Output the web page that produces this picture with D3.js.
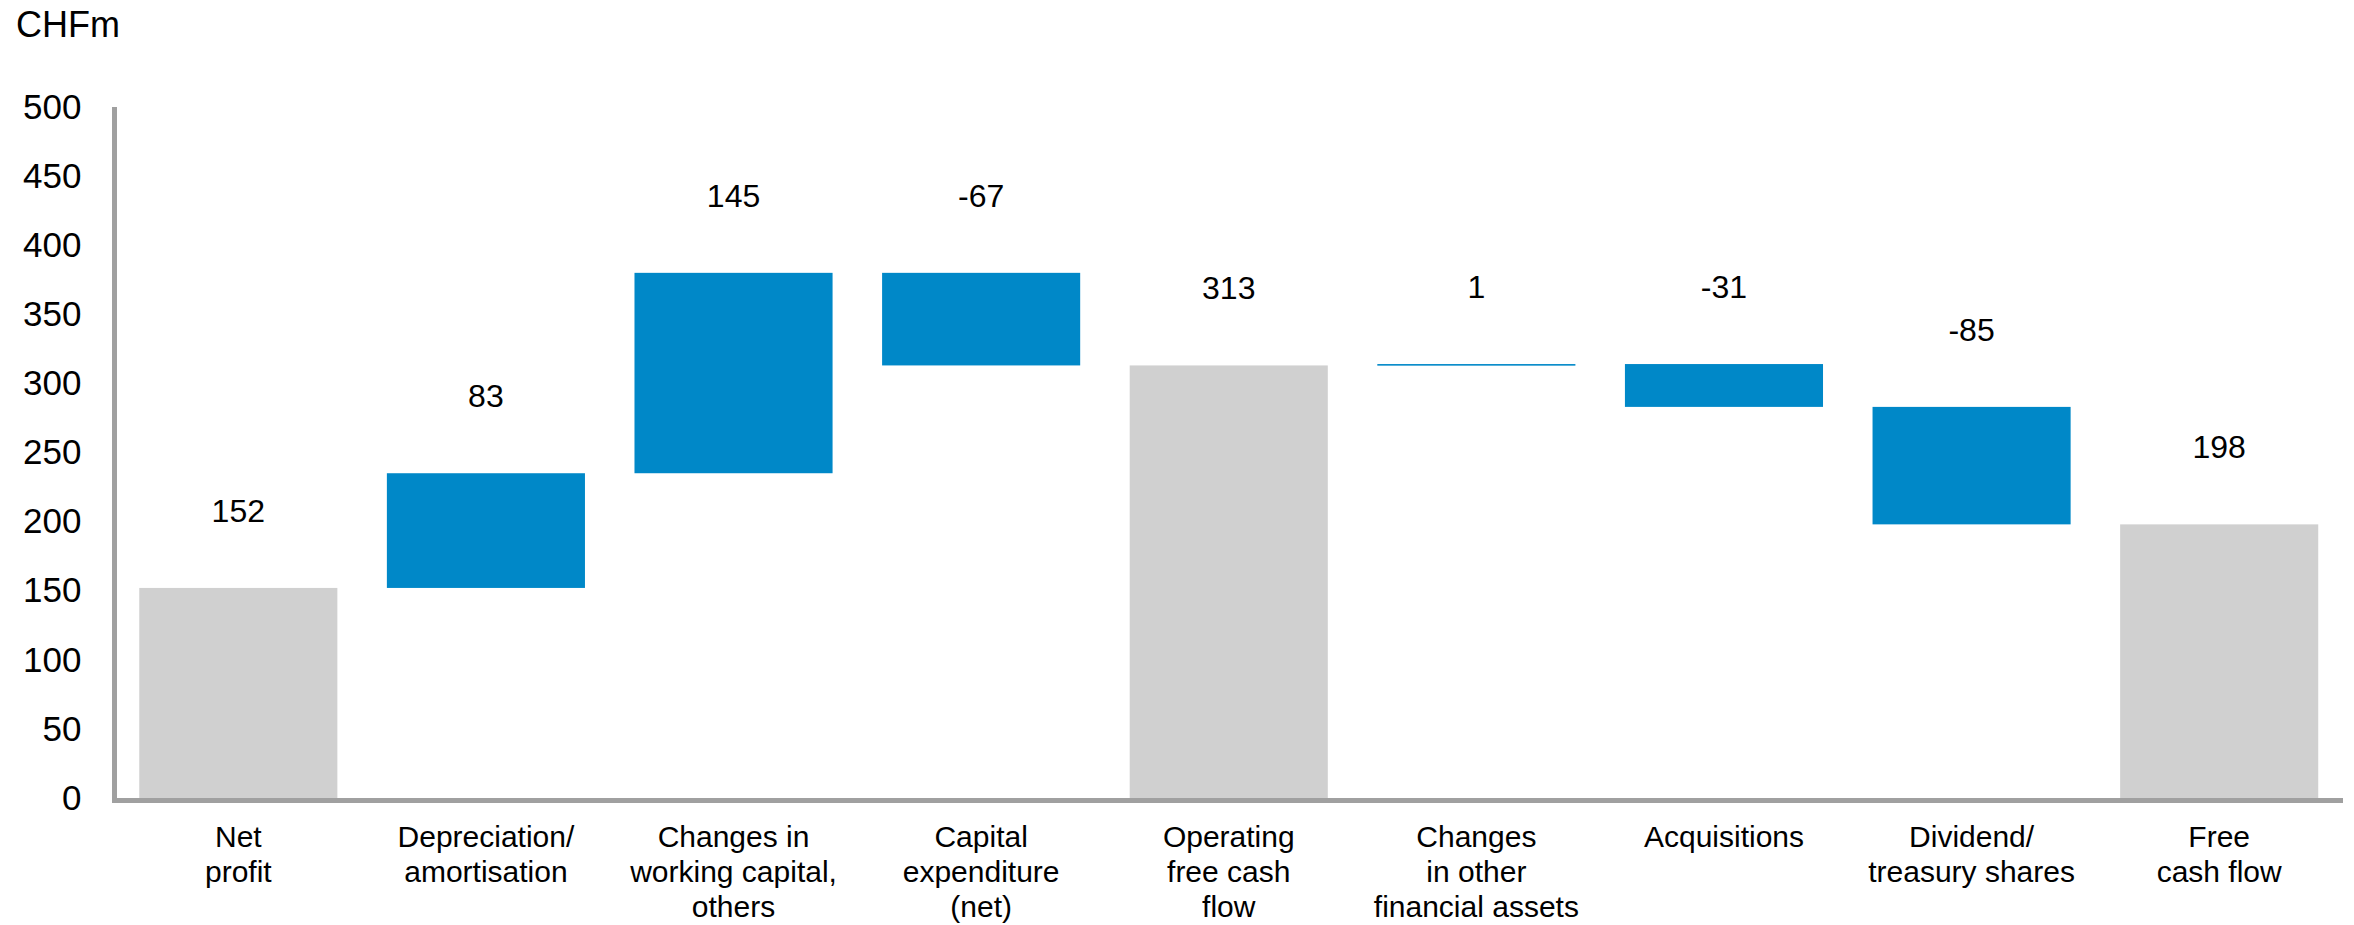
<!DOCTYPE html>
<html>
<head>
<meta charset="utf-8">
<script src="https://cdn.jsdelivr.net/npm/d3@7"></script>
<style>
  body { margin: 0; background: #fff; }
  text { font-family: Arial, 'Liberation Sans', sans-serif; fill: #000; }
</style>
</head>
<body>
<div id="chart"></div>
<script>
// waterfall data
const categories = [
  'Net\nprofit',
  'Depreciation/\namortisation',
  'Changes in\nworking capital,\nothers',
  'Capital\nexpenditure\n(net)',
  'Operating\nfree cash\nflow',
  'Changes\nin other\nfinancial assets',
  'Acquisitions',
  'Dividend/\ntreasury shares',
  'Free\ncash flow'
];
const values = [152, 83, 145, -67, 313, 1, -31, -85, 198];
const isTotal = [true, false, false, false, true, false, false, false, true];
const yTicks = [0, 50, 100, 150, 200, 250, 300, 350, 400, 450, 500];
const unitLabel = 'CHFm';

const width = 2354;
const height = 925;
const margin = { top: 107, right: 11, bottom: 127, left: 114.5 };

// running start/end for each step
let running = 0;
const steps = values.map(function (v, i) {
  let start, end;
  if (isTotal[i]) {
    start = 0;
    end = v;
    running = v;
  } else {
    start = running;
    end = running + v;
    running = end;
  }
  return { cat: categories[i], value: v, start: start, end: end, total: isTotal[i] };
});

const x = d3
  .scaleBand()
  .domain(categories)
  .range([margin.left, width - margin.right])
  .paddingInner(0.2)
  .paddingOuter(0.1);

const y = d3
  .scaleLinear()
  .domain([0, 500])
  .range([height - margin.bottom, margin.top]);

const svg = d3
  .select('#chart')
  .append('svg')
  .attr('width', width)
  .attr('height', height);

svg
  .append('text')
  .attr('x', 16)
  .attr('y', 37)
  .style('font-size', '36px')
  .text(unitLabel);

// y tick labels
const yAxis = svg
  .append('g')
  .attr('transform', `translate(${margin.left},0)`)
  .call(d3.axisLeft(y).tickValues(yTicks).tickSize(0).tickPadding(33));
yAxis.select('.domain').remove();
yAxis
  .selectAll('text')
  .style('font-size', '35px')
  .style('font-family', 'Arial, "Liberation Sans", sans-serif')
  .attr('fill', '#000');

// bars
svg
  .append('g')
  .selectAll('rect')
  .data(steps)
  .enter()
  .append('rect')
  .attr('x', function (d) {
    return x(d.cat);
  })
  .attr('width', x.bandwidth())
  .attr('y', function (d) {
    return y(Math.max(d.start, d.end));
  })
  .attr('height', function (d) {
    return Math.max(1.6, Math.abs(y(d.start) - y(d.end)));
  })
  .attr('fill', function (d) {
    return d.total ? '#d0d0d0' : '#0088c8';
  });

// value labels
svg
  .append('g')
  .selectAll('text')
  .data(steps)
  .enter()
  .append('text')
  .attr('x', function (d) {
    return x(d.cat) + x.bandwidth() / 2;
  })
  .attr('y', function (d) {
    return y(Math.max(d.start, d.end)) - 66;
  })
  .attr('text-anchor', 'middle')
  .style('font-size', '32px')
  .text(function (d) {
    return d.value;
  });

// axis lines
const axisColor = '#a0a0a0';
svg
  .append('line')
  .attr('x1', margin.left)
  .attr('x2', margin.left)
  .attr('y1', y(500))
  .attr('y2', y(0) + 5)
  .attr('stroke', axisColor)
  .attr('stroke-width', 5);
svg
  .append('line')
  .attr('x1', margin.left - 2.5)
  .attr('x2', width - margin.right)
  .attr('y1', y(0) + 2.5)
  .attr('y2', y(0) + 2.5)
  .attr('stroke', axisColor)
  .attr('stroke-width', 5);

// category labels
const catLabels = svg
  .append('g')
  .selectAll('text')
  .data(categories)
  .enter()
  .append('text')
  .attr('text-anchor', 'middle')
  .attr('transform', function (d) {
    return `translate(${x(d) + x.bandwidth() / 2},${y(0) + 49})`;
  })
  .style('font-size', '30px');

catLabels
  .selectAll('tspan')
  .data(function (d) {
    return d.split('\n');
  })
  .enter()
  .append('tspan')
  .attr('x', 0)
  .attr('y', function (d, i) {
    return i * 35;
  })
  .text(function (d) {
    return d;
  });
</script>
</body>
</html>
